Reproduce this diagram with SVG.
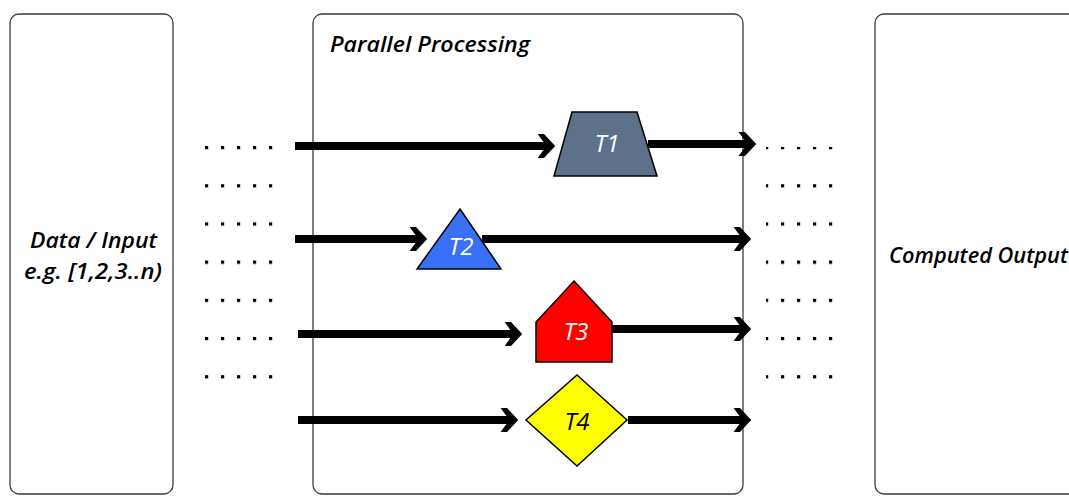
<svg xmlns="http://www.w3.org/2000/svg" width="1069" height="496" viewBox="0 0 1069 496">
<style>
.box{fill:none;stroke:#3a3a3a;stroke-width:1.3}
.lbl{font-family:"Open Sans","Liberation Sans",Arial,sans-serif;font-style:italic;font-weight:600;font-size:22px;fill:#000}
.t{font-family:"Open Sans","Liberation Sans",Arial,sans-serif;font-style:italic;font-size:24px;text-anchor:middle;dominant-baseline:central}
.shape{stroke:#000;stroke-width:1.5}
.arr{stroke:#000;stroke-width:8;fill:none;marker-end:url(#barb)}
</style>
<defs>
<marker id="barb" markerUnits="userSpaceOnUse" orient="auto" refX="0" refY="0" markerWidth="40" markerHeight="40" viewBox="-30 -20 50 40" overflow="visible">
<path d="M-13,-15 L-5,-15 L9,0 L-5,15 L-13,15 L-2,0 Z" fill="#000"/>
</marker>
<pattern id="dots" x="205" y="146" width="16" height="38.2" patternUnits="userSpaceOnUse">
<rect x="0" y="0" width="3.2" height="3.2" fill="#000"/>
</pattern>
</defs>
<g id="input">
<rect class="box" x="10" y="14" width="163" height="480" rx="9"/>
<text class="lbl" x="30" y="248" textLength="127" lengthAdjust="spacingAndGlyphs">Data / Input</text>
<text class="lbl" x="24" y="279" textLength="138" lengthAdjust="spacingAndGlyphs">e.g. [1,2,3..n)</text>
</g>
<g id="processing">
<rect class="box" x="313" y="14" width="430" height="480" rx="9"/>
<text class="lbl" x="330" y="52" textLength="200" lengthAdjust="spacingAndGlyphs">Parallel Processing</text>
</g>
<g id="output">
<rect class="box" x="875" y="14" width="210" height="480" rx="9"/>
<text class="lbl" x="889" y="263" textLength="179" lengthAdjust="spacingAndGlyphs">Computed Output</text>
</g>
<g id="dots-left">
<rect x="205" y="146" width="70" height="236" fill="url(#dots)"/>
</g>
<g id="dots-right">
<rect x="766" y="147" width="70" height="236" fill="url(#dots)"/>
</g>
<g id="connectors">
<path class="arr" d="M295,146 L548,146"/>
<path class="arr" d="M648,144 L749,144"/>
<path class="arr" d="M295,239 L420,239"/>
<path class="arr" d="M482,239 L744,239"/>
<path class="arr" d="M298,334 L515,334"/>
<path class="arr" d="M612,329 L744,329"/>
<path class="arr" d="M298,420 L511,420"/>
<path class="arr" d="M628,420 L744,420"/>
</g>
<g id="T1">
<polygon class="shape" points="572,112 637,112 657,176 554,176" fill="#5d718a"/>
<text class="t" x="607" y="142" fill="#fff">T1</text>
</g>
<g id="T2">
<polygon class="shape" points="460,209 501,269 417,269" fill="#3a70f5"/>
<text class="t" x="461" y="245" fill="#fff">T2</text>
</g>
<g id="T3">
<polygon class="shape" points="574,281 612,322 612,362 536,362 536,322" fill="#ff0000"/>
<text class="t" x="576" y="330" fill="#fff">T3</text>
</g>
<g id="T4">
<polygon class="shape" points="577,375 627,420 577,466 526,420" fill="#ffff00"/>
<text class="t" x="577" y="420" fill="#000">T4</text>
</g>
</svg>
